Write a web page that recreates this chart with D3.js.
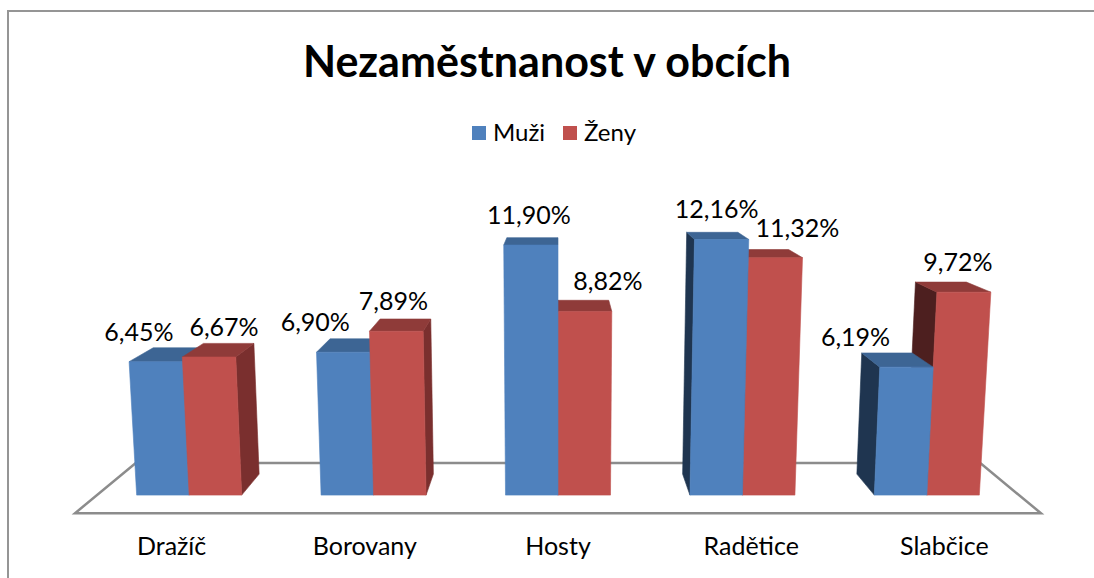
<!DOCTYPE html>
<html><head><meta charset="utf-8">
<script src="https://cdn.jsdelivr.net/npm/d3@7"></script>
<style>body{margin:0;background:#fff;overflow:hidden}</style>
</head><body>
<script>
// ---- data ----
const categories = ["Dražíč", "Borovany", "Hosty", "Radětice", "Slabčice"];
const seriesNames = ["Muži", "Ženy"];
const muzi = [6.45, 6.90, 11.90, 12.16, 6.19];
const zeny = [6.67, 7.89, 8.82, 11.32, 9.72];
const valueTicks = [0, 2, 4, 6, 8, 10, 12, 14];
const title = "Nezaměstnanost v obcích";

// ---- layout / style ----
const W = 1094, H = 578;
const FONT = "Lato, 'Open Sans', sans-serif";
const labelDx = [[-17, 15], [-28, -3], [-2, 23], [-5, 22], [-51, -6]];
const colors = {
  front: ["#4F81BD", "#C0504D"],
  top:   ["#3D6594", "#8F3B39"],
  left:  ["#1F3550", "#4D1F1F"],
  right: ["#355A86", "#7A2F2E"]
};
const cam = {cx: 558, cy: 300, F: 1189, th: Math.atan(0.156), h: 1};
const zFloorFront = 2.899, zFloorBack = 3.338, zBarFront = 3.044, zBarBack = 3.231;
const halfW = 1.226, barW = 0.1396;

function proj(X, Y, Z) {
  const c = Math.cos(cam.th), s = Math.sin(cam.th);
  const Yp = Y - cam.h;
  const yc = Yp * c + Z * s, zc = -Yp * s + Z * c;
  return [cam.cx + cam.F * X / zc, cam.cy - cam.F * yc / zc];
}

const x = d3.scaleBand().domain(categories).range([-halfW, halfW]);
const xs = d3.scaleBand().domain(seriesNames).range([-barW, barW]);
const y = d3.scaleLinear().domain([0, d3.max(valueTicks)]).range([0, 0.786]);

const svg = d3.select("body").append("svg").attr("width", W).attr("height", H)
  .style("font-family", FONT);

// border
svg.append("rect").attr("x", 8).attr("y", 11).attr("width", W + 20).attr("height", H + 20)
  .attr("fill", "#fff").attr("stroke", "#959595").attr("stroke-width", 2);

// title
svg.append("text").attr("x", 547).attr("y", 77).attr("text-anchor", "middle")
  .attr("font-weight", "bold").attr("font-size", 43).attr("fill", "#000").text(title);

// legend
const legX = [472, 563];
seriesNames.forEach((n, i) => {
  svg.append("rect").attr("x", legX[i]).attr("y", 126).attr("width", 14).attr("height", 14)
    .attr("fill", colors.front[i]);
  svg.append("text").attr("x", legX[i] + 21).attr("y", 141).attr("font-size", 24)
    .attr("fill", "#000").text(n);
});

// floor
const line = d3.line();
const floorPts = [
  proj(-halfW, 0, zFloorFront), proj(halfW, 0, zFloorFront),
  proj(halfW, 0, zFloorBack), proj(-halfW, 0, zFloorBack)
];
svg.append("path").attr("d", line(floorPts) + "Z").attr("fill", "#fff")
  .attr("stroke", "#8C8C8C").attr("stroke-width", 2.5).attr("stroke-linejoin", "miter");

// bars
const bars = [];
categories.forEach((c, ci) => {
  const center = x(c) + x.bandwidth() / 2;
  [muzi, zeny].forEach((arr, si) => {
    const x0 = center + xs(seriesNames[si]);
    const x1 = x0 + xs.bandwidth();
    bars.push({ci, si, x0, x1, v: arr[ci], y1: y(arr[ci])});
  });
});
bars.sort((a, b) => Math.abs((b.x0 + b.x1) / 2) - Math.abs((a.x0 + a.x1) / 2));

const g = svg.append("g");
bars.forEach(b => {
  const {x0, x1, y1, si} = b;
  const z0 = zBarFront, z1 = zBarBack;
  const faces = [];
  if (x0 > 0) faces.push({pts: [[x0,0,z0],[x0,y1,z0],[x0,y1,z1],[x0,0,z1]], fill: colors.left[si]});
  if (x1 < 0) faces.push({pts: [[x1,0,z0],[x1,y1,z0],[x1,y1,z1],[x1,0,z1]], fill: colors.right[si]});
  faces.push({pts: [[x0,y1,z0],[x1,y1,z0],[x1,y1,z1],[x0,y1,z1]], fill: colors.top[si]});
  faces.push({pts: [[x0,0,z0],[x1,0,z0],[x1,y1,z0],[x0,y1,z0]], fill: colors.front[si]});
  faces.forEach(f => {
    g.append("path").attr("d", line(f.pts.map(p => proj(...p))) + "Z")
      .attr("fill", f.fill).attr("stroke", f.fill).attr("stroke-width", 0.6)
      .attr("stroke-linejoin", "round");
  });
});

// data labels
const fmt = v => d3.format(".2f")(v).replace(".", ",") + "%";
bars.forEach(b => {
  const [lx, ly] = proj((b.x0 + b.x1) / 2, b.y1, zBarFront);
  svg.append("text").attr("x", lx + labelDx[b.ci][b.si]).attr("y", ly - 21)
    .attr("text-anchor", "middle").attr("font-size", 25).attr("fill", "#000")
    .text(fmt(b.v));
});

// category labels
categories.forEach(c => {
  const [cxp] = proj(x(c) + x.bandwidth() / 2, 0, zFloorFront);
  svg.append("text").attr("x", cxp).attr("y", 555).attr("text-anchor", "middle")
    .attr("font-size", 25).attr("fill", "#000").text(c);
});
</script>
</body></html>
